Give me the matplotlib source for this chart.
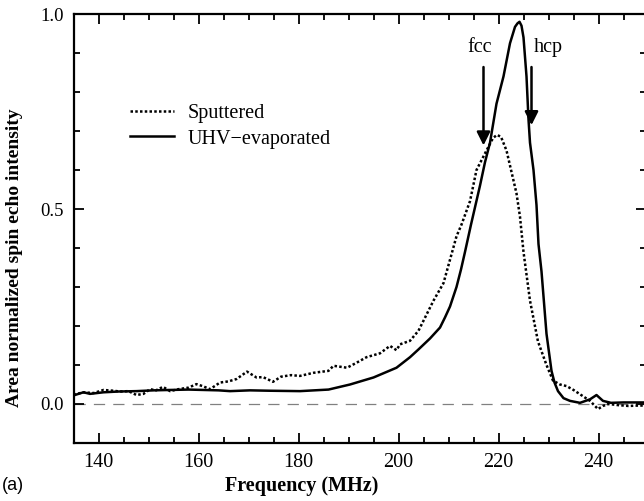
import numpy as np
import matplotlib
matplotlib.use("Agg")
import matplotlib.pyplot as plt
from matplotlib.ticker import MultipleLocator

# UHV-evaporated (solid)
f_uhv = [135, 137, 138.3, 141, 144, 147.6, 151, 154.3, 158, 161, 164, 166.3, 170.3,
         174.3, 180.3, 186, 190.3, 195, 199.6, 202.3, 204, 206.3, 208.3, 209.3, 210.3,
         211.6, 212.5, 213.3, 214.5, 216.3, 217.3, 218.3, 219.6, 221, 222.3, 223.3,
         223.8, 224.2, 224.6, 225, 225.6, 226, 226.3, 227, 227.6, 228, 228.6, 229.6,
         230.6, 231.2, 231.9, 233, 234.3, 236.3, 238.3, 239.6, 240.9, 242.5, 245, 249.5]
a_uhv = [0.022, 0.03, 0.026, 0.03, 0.032, 0.033, 0.035, 0.036, 0.037, 0.036, 0.035,
         0.033, 0.035, 0.034, 0.033, 0.037, 0.05, 0.068, 0.093, 0.12, 0.14, 0.168,
         0.196, 0.222, 0.25, 0.30, 0.345, 0.39, 0.46, 0.56, 0.62, 0.67, 0.77, 0.84,
         0.925, 0.967, 0.976, 0.98, 0.97, 0.94, 0.84, 0.73, 0.67, 0.60, 0.51, 0.41,
         0.34, 0.18, 0.085, 0.055, 0.033, 0.015, 0.008, 0.003, 0.012, 0.023, 0.008,
         0.003, 0.004, 0.004]

# Sputtered (dotted)
f_sp = [135, 137, 139, 141, 143, 144.3, 146, 147.6, 149, 150.3, 151.5, 152.9, 154.3,
        156, 158, 159.6, 161, 162.3, 164.3, 166, 167.6, 169.7, 171.6, 172.9, 174.9,
        176.5, 178.5, 180.3, 183, 186, 187, 189.7, 191.5, 193.6, 196.3, 198.3, 199.6,
        200.3, 202.3, 204, 207, 209, 210.3, 211.6, 212.6, 214.3, 215.6, 217.6, 218.5,
        218.9, 219.7, 220.5, 221.6, 223.6, 224.3, 225, 226.3, 227.9, 229.6, 230.9,
        232.3, 233.6, 235, 236.3, 238.3, 239.9, 240.9, 242, 244, 246, 248, 249.5]
a_sp = [0.024, 0.03, 0.028, 0.036, 0.034, 0.032, 0.033, 0.023, 0.026, 0.038, 0.035,
        0.044, 0.033, 0.038, 0.042, 0.051, 0.045, 0.038, 0.055, 0.058, 0.064, 0.083,
        0.068, 0.069, 0.057, 0.07, 0.074, 0.072, 0.08, 0.085, 0.098, 0.093, 0.105,
        0.12, 0.13, 0.149, 0.138, 0.153, 0.162, 0.188, 0.265, 0.31, 0.37, 0.43, 0.46,
        0.52, 0.60, 0.65, 0.672, 0.682, 0.69, 0.685, 0.65, 0.54, 0.48, 0.39, 0.265,
        0.16, 0.10, 0.06, 0.05, 0.046, 0.036, 0.025, 0.008, -0.013, -0.005, 0.0,
        -0.003, -0.005, -0.004, -0.004]

# arrow annotations: (label, frequency, arrow top, arrow tip)
marks = [("fcc", 217.0, 0.864, 0.663), ("hcp", 226.6, 0.864, 0.715)]

plt.rcParams['font.family'] = ['Liberation Serif', 'DejaVu Serif']

fig = plt.figure(figsize=(6.44, 5.01), dpi=100)
ax = fig.add_axes([73.5/644, 58/501, 572.5/644, 429/501])

ax.axhline(0, color="#808080", lw=0.9, dashes=(9, 6.5), zorder=1)
ax.plot(f_sp, a_sp, color="black", lw=1.8, linestyle=(0, (1, 0.9)), label="Sputtered")
ax.plot(f_uhv, a_uhv, color="black", lw=1.8, label="UHV\u2212evaporated")

for name, fx, top, tip in marks:
    ax.annotate("", xy=(fx, tip), xytext=(fx, top),
                arrowprops=dict(arrowstyle="-|>", color="black", lw=1.8,
                                mutation_scale=20, shrinkA=0, shrinkB=0))
    ax.text(fx - 0.7 if name == "fcc" else fx + 3.3, 0.913, name, ha="center",
            va="center", fontsize=14.5)

ax.set_xlim(135, 249.5)
ax.set_ylim(-0.1, 1.0)
ax.xaxis.set_major_locator(MultipleLocator(20))
ax.xaxis.set_minor_locator(MultipleLocator(5))
ax.yaxis.set_major_locator(MultipleLocator(0.5))
ax.yaxis.set_minor_locator(MultipleLocator(0.1))
ax.set_yticks([0.0, 0.5, 1.0])
ax.set_yticklabels(["0.0", "0.5", "1.0"])
ax.tick_params(which="both", direction="in", top=True, right=True, width=1.3)
ax.tick_params(which="major", length=7)
ax.tick_params(which="minor", length=4)
ax.tick_params(axis="x", labelsize=14.5, pad=7)
ax.tick_params(axis="y", labelsize=13.5, pad=7)
for s in ax.spines.values():
    s.set_linewidth(1.6)

ax.legend(loc="center left", bbox_to_anchor=(0.0987, 0.738), frameon=False,
          fontsize=14.5, handlelength=2.2, handletextpad=0.65, labelspacing=0.3,
          borderpad=0, borderaxespad=0)

fig.text(302/644, 1 - 486/501, "Frequency (MHz)", ha="center", va="center",
         fontsize=14.5, fontweight="bold")
fig.text(15/644, 1 - 258/501, "Area normalized spin echo intensity", ha="center",
         va="center", rotation=90, fontsize=14, fontweight="bold")
fig.text(2/644, 1 - 486/501, "(a)", ha="left", va="center", fontsize=13,
         family="Liberation Sans")

fig.savefig("out.png", dpi=100)
